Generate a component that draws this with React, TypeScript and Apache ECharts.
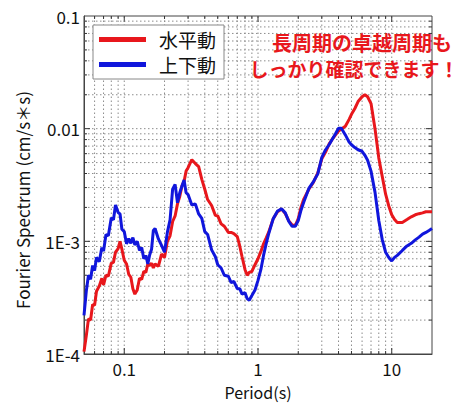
import React, { useEffect, useRef } from "react";
import * as echarts from "echarts";

// Period (s)
const periods = [
  0.05, 0.052, 0.054, 0.056, 0.058, 0.06, 0.062, 0.065, 0.068, 0.07,
  0.073, 0.076, 0.08, 0.083, 0.086, 0.09, 0.093, 0.096, 0.1, 0.104,
  0.108, 0.112, 0.116, 0.12, 0.125, 0.13, 0.135, 0.14, 0.145, 0.15,
  0.155, 0.16, 0.165, 0.17, 0.18, 0.19, 0.2, 0.21, 0.22, 0.23,
  0.24, 0.25, 0.26, 0.27, 0.28, 0.29, 0.3, 0.32, 0.34, 0.36,
  0.38, 0.4, 0.42, 0.45, 0.48, 0.5, 0.53, 0.56, 0.6, 0.63,
  0.66, 0.7, 0.73, 0.76, 0.8, 0.83, 0.86, 0.9, 0.95, 1.0,
  1.05, 1.1, 1.15, 1.2, 1.3, 1.4, 1.5, 1.6, 1.7, 1.8,
  1.9, 2.0, 2.1, 2.2, 2.4, 2.6, 2.8, 3.0, 3.2, 3.4,
  3.6, 3.8, 4.0, 4.2, 4.5, 4.8, 5.0, 5.3, 5.6, 6.0,
  6.3, 6.6, 7.0, 7.5, 8.0, 8.5, 9.0, 9.5, 10, 10.5,
  11, 12, 13, 14, 15, 16, 17, 18, 19, 20,
];

// 水平動 (horizontal)
const horizontal = [
  1.05e-4, 1.45e-4, 2.05e-4, 2.0e-4, 2.75e-4, 2.7e-4, 3.6e-4, 4.0e-4, 4.7e-4, 4.1e-4,
  5.0e-4, 4.9e-4, 6.4e-4, 6.5e-4, 8.0e-4, 8.6e-4, 1.0e-3, 8.5e-4, 6.8e-4, 6.3e-4,
  5.1e-4, 4.8e-4, 3.8e-4, 3.4e-4, 3.7e-4, 4.7e-4, 4.6e-4, 5.4e-4, 5.3e-4, 6.3e-4,
  6.1e-4, 6.4e-4, 5.8e-4, 6.3e-4, 6.0e-4, 7.7e-4, 7.2e-4, 1.0e-3, 1.12e-3, 1.5e-3,
  1.68e-3, 2.15e-3, 2.5e-3, 3.1e-3, 3.4e-3, 4.2e-3, 4.5e-3, 5.3e-3, 4.9e-3, 4.6e-3,
  3.55e-3, 2.9e-3, 2.35e-3, 2.08e-3, 1.7e-3, 1.68e-3, 1.43e-3, 1.36e-3, 1.2e-3, 1.2e-3,
  1.17e-3, 1.1e-3, 9.1e-4, 7.3e-4, 5.6e-4, 5.0e-4, 5.3e-4, 5.4e-4, 6.2e-4, 7.0e-4,
  8.1e-4, 9.5e-4, 1.07e-3, 1.2e-3, 1.59e-3, 1.83e-3, 1.94e-3, 1.76e-3, 1.52e-3, 1.4e-3,
  1.38e-3, 1.59e-3, 2.02e-3, 2.37e-3, 2.9e-3, 3.35e-3, 4.05e-3, 5.4e-3, 6.2e-3, 7.3e-3,
  8.1e-3, 8.8e-3, 9.5e-3, 9.95e-3, 1.05e-2, 1.21e-2, 1.34e-2, 1.51e-2, 1.74e-2, 1.92e-2,
  2.0e-2, 1.92e-2, 1.67e-2, 9.95e-3, 5.5e-3, 3.74e-3, 2.62e-3, 2.06e-3, 1.72e-3, 1.56e-3,
  1.47e-3, 1.47e-3, 1.56e-3, 1.65e-3, 1.72e-3, 1.76e-3, 1.79e-3, 1.83e-3, 1.83e-3, 1.83e-3,
];

// 上下動 (vertical)
const vertical = [
  2.2e-4, 3.6e-4, 5.0e-4, 4.6e-4, 6.1e-4, 5.5e-4, 7.2e-4, 6.6e-4, 8.8e-4, 8.2e-4,
  1.15e-3, 1.12e-3, 1.62e-3, 1.55e-3, 2.1e-3, 1.8e-3, 1.75e-3, 1.28e-3, 1.22e-3, 9.5e-4,
  1.06e-3, 9.6e-4, 1.08e-3, 9.3e-4, 1.0e-3, 8.3e-4, 8.8e-4, 7.0e-4, 7.5e-4, 6.3e-4,
  7.6e-4, 8.5e-4, 1.25e-3, 1.3e-3, 1.05e-3, 9.2e-4, 8.0e-4, 1.2e-3, 1.55e-3, 2.9e-3,
  3.2e-3, 2.2e-3, 2.7e-3, 3.1e-3, 3.5e-3, 2.7e-3, 2.6e-3, 2.1e-3, 2.15e-3, 1.75e-3,
  1.6e-3, 1.22e-3, 1.15e-3, 8.4e-4, 7.3e-4, 6.2e-4, 5.8e-4, 5.0e-4, 4.9e-4, 4.3e-4,
  4.4e-4, 3.8e-4, 3.8e-4, 3.4e-4, 3.5e-4, 3.1e-4, 3.0e-4, 3.3e-4, 3.7e-4, 4.5e-4,
  5.6e-4, 7.5e-4, 9.5e-4, 1.16e-3, 1.59e-3, 1.86e-3, 1.94e-3, 1.79e-3, 1.5e-3, 1.36e-3,
  1.36e-3, 1.53e-3, 1.9e-3, 2.23e-3, 2.95e-3, 3.39e-3, 3.97e-3, 5.57e-3, 6.5e-3, 7.2e-3,
  8.1e-3, 9.0e-3, 1.01e-2, 1.01e-2, 8.8e-3, 7.6e-3, 7.2e-3, 6.8e-3, 6.5e-3, 6.3e-3,
  5.8e-3, 5.25e-3, 4.2e-3, 2.72e-3, 1.53e-3, 1.03e-3, 8.0e-4, 7.2e-4, 6.7e-4, 7.2e-4,
  7.5e-4, 8.3e-4, 9.1e-4, 9.6e-4, 1.03e-3, 1.09e-3, 1.16e-3, 1.2e-3, 1.25e-3, 1.3e-3,
];

const seriesNames = ["水平動", "上下動"];
const xTickValues = [0.1, 1, 10];
const xTickLabels = ["0.1", "1", "10"];
const yTickValues = [1e-4, 1e-3, 1e-2, 0.1];
const yTickLabels = ["1E-4", "1E-3", "0.01", "0.1"];
const xGridValues = [
  0.06, 0.07, 0.08, 0.09, 0.1, 0.2, 0.3, 0.4, 0.5, 0.6, 0.7, 0.8, 0.9,
  1, 2, 3, 4, 5, 6, 7, 8, 9, 10,
];
const yGridValues = [
  2e-4, 3e-4, 4e-4, 5e-4, 6e-4, 7e-4, 8e-4, 9e-4, 1e-3,
  2e-3, 3e-3, 4e-3, 5e-3, 6e-3, 7e-3, 8e-3, 9e-3, 1e-2,
  2e-2, 3e-2, 4e-2, 5e-2, 6e-2, 7e-2, 8e-2, 9e-2,
];
const xMin = 0.05;
const xMax = 20;
const yMin = 1e-4;
const yMax = 0.1;
const xAxisTitle = "Period(s)";
const yAxisTitle = "Fourier Spectrum (cm/s＊s)";
const noteLines = ["長周期の卓越周期も", "しっかり確認できます！"];

const RED = "#e8171c";
const BLUE = "#1016dc";
const FONT = "'Noto Sans CJK JP', 'Noto Sans', sans-serif";

function matchLabel(v: number, values: number[], labels: string[]) {
  for (let i = 0; i < values.length; i++) {
    if (Math.abs(v - values[i]) / values[i] < 1e-6) return labels[i];
  }
  return "";
}

function isDecade(v: number) {
  const l = Math.log10(v);
  return Math.abs(l - Math.round(l)) < 1e-6;
}

export default function App() {
  const ref = useRef<HTMLDivElement>(null);

  useEffect(() => {
    if (!ref.current) return;
    const chart = echarts.init(ref.current, undefined, { renderer: "svg" });

    const gridRender = (params: any, api: any) => {
      const children: any[] = [];
      const gridStyle = { stroke: "#8c8c8c", lineWidth: 1, lineDash: [1.5, 2.5] };
      const tickStyle = { stroke: "#333", lineWidth: 1 };
      xGridValues.forEach((x) => {
        const b = api.coord([x, yMin]);
        const t = api.coord([x, yMax]);
        children.push({ type: "line", shape: { x1: b[0], y1: b[1], x2: t[0], y2: t[1] }, style: gridStyle, silent: true });
        const len = isDecade(x) ? 6 : 3;
        children.push({ type: "line", shape: { x1: b[0], y1: b[1], x2: b[0], y2: b[1] - len }, style: tickStyle, silent: true });
        children.push({ type: "line", shape: { x1: t[0], y1: t[1], x2: t[0], y2: t[1] + len }, style: tickStyle, silent: true });
      });
      yGridValues.forEach((y) => {
        const l = api.coord([xMin, y]);
        const r = api.coord([xMax, y]);
        children.push({ type: "line", shape: { x1: l[0], y1: l[1], x2: r[0], y2: r[1] }, style: gridStyle, silent: true });
        const len = isDecade(y) ? 6 : 3;
        children.push({ type: "line", shape: { x1: l[0], y1: l[1], x2: l[0] + len, y2: l[1] }, style: tickStyle, silent: true });
        children.push({ type: "line", shape: { x1: r[0], y1: r[1], x2: r[0] - len, y2: r[1] }, style: tickStyle, silent: true });
      });
      return { type: "group", children };
    };

    chart.setOption({
      animation: false,
      backgroundColor: "#fff",
      grid: {
        left: 84,
        top: 16,
        right: 40,
        bottom: 42,
        show: true,
        borderColor: "#444",
        borderWidth: 1,
        backgroundColor: "transparent",
      },
      legend: {
        data: seriesNames,
        orient: "vertical",
        left: 93,
        top: 25,
        padding: [5, 8, 5, 6],
        itemGap: 6,
        itemWidth: 47,
        itemHeight: 5,
        icon: "rect",
        backgroundColor: "#fff",
        borderColor: "#888",
        borderWidth: 1,
        borderRadius: 0,
        textStyle: { fontFamily: FONT, fontSize: 19, color: "#111", padding: [0, 0, 0, 8] },
      },
      xAxis: {
        type: "log",
        logBase: 10,
        min: xMin,
        max: xMax,
        name: xAxisTitle,
        nameLocation: "middle",
        nameGap: 30,
        nameTextStyle: { fontFamily: FONT, fontSize: 16, color: "#111", lineHeight: 16 },
        axisLine: { show: true, lineStyle: { color: "#444" } },
        axisTick: { show: false },
        splitLine: { show: false },
        axisLabel: {
          fontFamily: FONT,
          fontSize: 17,
          lineHeight: 17,
          color: "#111",
          margin: 6,
          formatter: (v: number) => matchLabel(v, xTickValues, xTickLabels),
        },
      },
      yAxis: {
        type: "log",
        logBase: 10,
        min: yMin,
        max: yMax,
        axisLine: { show: true, lineStyle: { color: "#444" } },
        axisTick: { show: false },
        splitLine: { show: false },
        axisLabel: {
          fontFamily: FONT,
          fontSize: 17,
          color: "#111",
          margin: 4,
          formatter: (v: number) => matchLabel(v, yTickValues, yTickLabels),
        },
      },
      series: [
        {
          type: "custom",
          name: "grid",
          silent: true,
          z: 1,
          renderItem: gridRender,
          data: [[1, 1e-3]],
          clip: false,
        },
        {
          type: "line",
          name: seriesNames[0],
          data: periods.map((p, i) => [p, horizontal[i]]),
          showSymbol: false,
          symbol: "none",
          color: RED,
          lineStyle: { color: RED, width: 3 },
          z: 3,
        },
        {
          type: "line",
          name: seriesNames[1],
          data: periods.map((p, i) => [p, vertical[i]]),
          showSymbol: false,
          symbol: "none",
          color: BLUE,
          lineStyle: { color: BLUE, width: 3 },
          z: 4,
        },
      ],
      graphic: [
        {
          type: "text",
          x: 22,
          y: 200,
          rotation: Math.PI / 2,
          style: {
            text: yAxisTitle,
            fontFamily: FONT,
            fontSize: 17,
            fill: "#111",
            align: "center",
            verticalAlign: "middle",
          },
          z: 10,
        },
        {
          type: "text",
          x: 362,
          y: 42,
          style: {
            text: noteLines[0],
            fontFamily: FONT,
            fontSize: 20,
            fontWeight: "bold",
            fill: RED,
            align: "center",
            verticalAlign: "middle",
          },
          z: 10,
        },
        {
          type: "text",
          x: 354,
          y: 68,
          style: {
            text: noteLines[1],
            fontFamily: FONT,
            fontSize: 19,
            fontWeight: "bold",
            fill: RED,
            align: "center",
            verticalAlign: "middle",
          },
          z: 10,
        },
      ],
    });

    return () => chart.dispose();
  }, []);

  return (
    <div
      ref={ref}
      style={{ position: "fixed", left: 0, top: 0, width: 472, height: 405 }}
    />
  );
}
